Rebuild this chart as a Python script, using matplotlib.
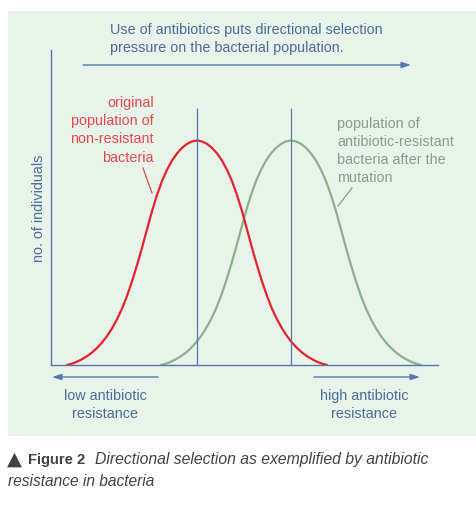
"""Directional selection schematic: antibiotic resistance in bacteria."""

import matplotlib

matplotlib.use("Agg")
import matplotlib.pyplot as plt
from matplotlib.patches import Rectangle

# curve readings (x: antibiotic resistance, y: no. of individuals, arbitrary units)
red_x = [3.2, 4.2, 5.2, 6.2, 7.2, 8.2, 9.2, 10.2, 11.2, 12.2, 13.2, 14.2, 15.2, 16.2,
         17.2, 18.2, 19.2, 20.2, 21.2, 22.2, 23.2, 24.2, 25.2, 26.2, 27.2, 28.2, 29.2,
         30.2, 31.2, 32.2, 33.2, 34.2, 35.2, 36.2, 37.2, 38.2, 39.2, 40.2, 41.2, 42.2,
         43.2, 44.2, 45.2, 46.2, 47.2, 48.2, 49.2, 50.2, 51.2, 52.2, 53.2, 54.2, 55.2]
red_y = [0, 0.26, 0.66, 1.16, 1.76, 2.50, 3.40, 4.48, 5.78, 7.32, 9.14, 11.26, 13.80,
         16.72, 19.96, 23.44, 27.12, 30.76, 34.00, 36.78, 39.04, 40.88, 42.32, 43.42,
         44.22, 44.72, 44.90, 44.72, 44.22, 43.42, 42.32, 40.88, 39.04, 36.78, 34.00,
         30.76, 27.12, 23.44, 19.96, 16.72, 13.80, 11.26, 9.14, 7.32, 5.78, 4.48, 3.40,
         2.50, 1.76, 1.16, 0.66, 0.26, 0]
green_x = [22.0, 23.0, 24.0, 25.0, 26.0, 27.0, 28.0, 29.0, 30.0, 31.0, 32.0, 33.0, 34.0,
           35.0, 36.0, 37.0, 38.0, 39.0, 40.0, 41.0, 42.0, 43.0, 44.0, 45.0, 46.0, 47.0,
           48.0, 49.0, 50.0, 51.0, 52.0, 53.0, 54.0, 55.0, 56.0, 57.0, 58.0, 59.0, 60.0,
           61.0, 62.0, 63.0, 64.0, 65.0, 66.0, 67.0, 68.0, 69.0, 70.0, 71.0, 72.0, 73.0,
           74.0]
green_y = [0, 0.26, 0.66, 1.16, 1.76, 2.50, 3.40, 4.48, 5.78, 7.32, 9.14, 11.26, 13.80,
           16.72, 19.96, 23.44, 27.12, 30.76, 34.00, 36.78, 39.04, 40.88, 42.32, 43.42,
           44.22, 44.72, 44.90, 44.72, 44.22, 43.42, 42.32, 40.88, 39.04, 36.78, 34.00,
           30.76, 27.12, 23.44, 19.96, 16.72, 13.80, 11.26, 9.14, 7.32, 5.78, 4.48, 3.40,
           2.50, 1.76, 1.16, 0.66, 0.26, 0]
means = [29.2, 48.0]
mean_top = 51.4

title_lines = ["Use of antibiotics puts directional selection",
               "pressure on the bacterial population."]
red_label = ["original", "population of", "non-resistant", "bacteria"]
green_label = ["population of", "antibiotic-resistant", "bacteria after the", "mutation"]

W, H = 477, 510
BG = "#e8f3ea"
BLUE = "#5577ad"
TXT_BLUE = "#4d6c9c"
RED = "#e4232d"
RED_TXT = "#e14a50"
GREEN = "#8daf89"
GREEN_TXT = "#8c9c8b"
CAP = "#424242"
FONT = "Liberation Sans"
FS = 10.4

fig = plt.figure(figsize=(W / 100, H / 100), dpi=100, facecolor="white")


def fx(x):
    return x / W


def fy(y):
    return 1 - y / H


def ptext(x, y, s, **kw):
    kw.setdefault("family", FONT)
    kw.setdefault("va", "baseline")
    fig.text(fx(x), fy(y), s, **kw)


fig.add_artist(Rectangle((fx(8), fy(437)), fx(477 - 8), (437 - 12) / H,
                         transform=fig.transFigure, facecolor=BG, edgecolor="none", zorder=0))

ax = fig.add_axes([fx(51), fy(366), (438 - 51) / W, (366 - 51) / H])
ax.set_facecolor("none")
ax.set_xlim(0, 77.4)
ax.set_ylim(0, 63)
for s in ("top", "right"):
    ax.spines[s].set_visible(False)
for s in ("left", "bottom"):
    ax.spines[s].set_color(BLUE)
    ax.spines[s].set_linewidth(1.0)
ax.set_xticks([])
ax.set_yticks([])

ax.plot(red_x, red_y, color=RED, lw=1.6, solid_capstyle="round", zorder=3)
ax.plot(green_x, green_y, color=GREEN, lw=1.6, solid_capstyle="round", zorder=2)
ax.vlines(means, 0, mean_top, color=BLUE, lw=0.9, zorder=4)

arrow_kw = dict(arrowstyle="-|>,head_length=0.55,head_width=0.18", color=BLUE, lw=1.0,
                shrinkA=0, shrinkB=0)
ax.annotate("", xy=(72.0, 60.0), xytext=(6.4, 60.0), arrowprops=arrow_kw, annotation_clip=False)
ax.annotate("", xy=(0.2, -2.4), xytext=(21.4, -2.4), arrowprops=arrow_kw, annotation_clip=False)
ax.annotate("", xy=(73.8, -2.4), xytext=(52.6, -2.4), arrowprops=arrow_kw, annotation_clip=False)

# texts
for s, y in zip(title_lines, [34, 52]):
    ptext(110, y, s, ha="left", fontsize=FS, color=TXT_BLUE)
for s, y in zip(red_label, [107, 125, 143, 162]):
    ptext(154, y, s, ha="right", fontsize=FS, color=RED_TXT)
for s, y in zip(green_label, [128, 146, 164, 182]):
    ptext(337, y, s, ha="left", fontsize=FS, color=GREEN_TXT)
fig.add_artist(plt.Line2D([fx(143), fx(152)], [fy(169), fy(194)], color=RED_TXT, lw=0.9))
fig.add_artist(plt.Line2D([fx(352), fx(338)], [fy(189), fy(207)], color=GREEN_TXT, lw=0.9))

ptext(39.5, 208, "no. of individuals", ha="center", va="center", rotation=90,
      fontsize=FS, color=TXT_BLUE)
ptext(105, 400, "low antibiotic", ha="center", fontsize=FS, color=TXT_BLUE)
ptext(105, 418, "resistance", ha="center", fontsize=FS, color=TXT_BLUE)
ptext(364, 400, "high antibiotic", ha="center", fontsize=FS, color=TXT_BLUE)
ptext(364, 418, "resistance", ha="center", fontsize=FS, color=TXT_BLUE)

# caption
ptext(7, 465, "\u25b2", ha="left", fontsize=14, color=CAP, family="DejaVu Sans")
ptext(28, 464, "Figure 2", ha="left", fontsize=10.6, color=CAP, fontweight="bold")
ptext(95, 464, "Directional selection as exemplified by antibiotic", ha="left",
      fontsize=11.3, color=CAP, style="italic")
ptext(8, 486, "resistance in bacteria", ha="left", fontsize=11.2, color=CAP, style="italic")

fig.savefig("out.png", dpi=100, facecolor="white")
